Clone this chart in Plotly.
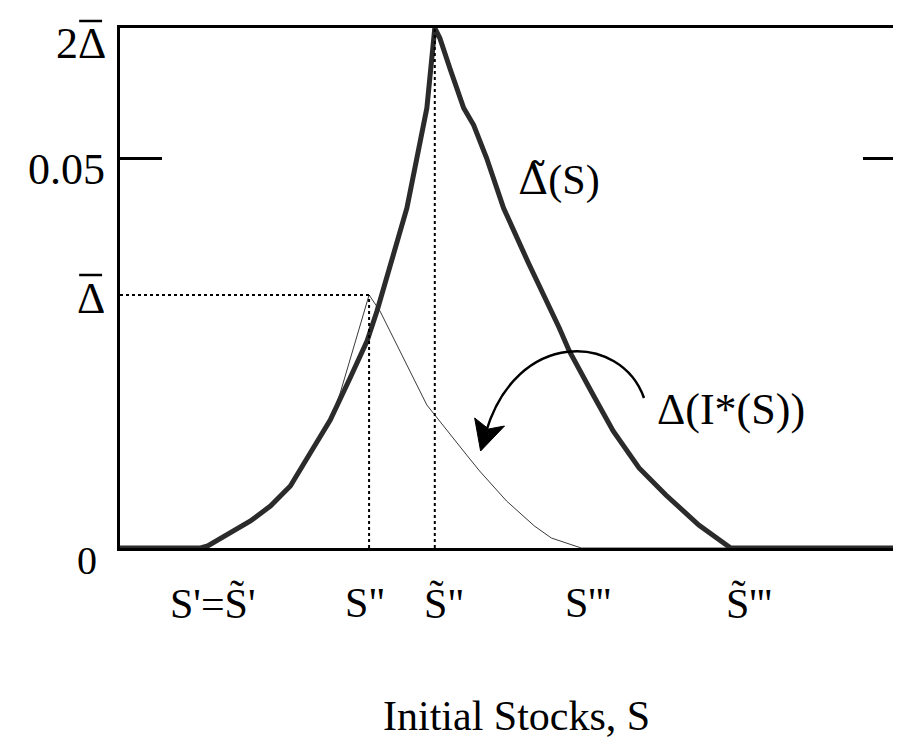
import plotly.graph_objects as go

# ---- data ----
S_thick = [0, 10.28, 11.17, 13.32, 16.62, 19.16, 21.70, 24.24, 26.78, 29.31, 31.47, 32.74,
           34.39, 36.55, 37.82, 39.09, 40.10, 40.74, 42.01, 43.78, 45.05, 46.70, 48.86,
           52.03, 55.96, 57.23, 60.28, 62.82, 66.12, 69.54, 73.73, 77.79, 100]
D_thick = [0, 0, 0.00026, 0.00154, 0.00346, 0.00538, 0.00795, 0.01218, 0.01641, 0.02179,
           0.02654, 0.03038, 0.03590, 0.04359, 0.0500, 0.05641, 0.06667, 0.06538, 0.06154,
           0.05641, 0.05423, 0.0500, 0.04359, 0.03654, 0.02821, 0.02526, 0.01962, 0.0150,
           0.01026, 0.00679, 0.00295, 0, 0]

S_thin = [0, 10.28, 11.17, 13.32, 16.62, 19.16, 21.70, 24.24, 26.78, 28.05, 31.73, 33.12,
          36.55, 39.09, 44.16, 45.81, 49.24, 52.79, 54.95, 57.49, 58.76, 100]
D_thin = [0, 0, 0.00026, 0.00154, 0.00346, 0.00538, 0.00795, 0.01218, 0.01641, 0.01987,
          0.03244, 0.03038, 0.02346, 0.01833, 0.01192, 0.00987, 0.00603, 0.00282, 0.00128,
          0.00038, 0, 0]

Y_TICK = 0.05
X_RANGE = [0, 100]
Y_RANGE = [0, 0.06667]

# derived reference points
i_thin = D_thin.index(max(D_thin))
i_thick = D_thick.index(max(D_thick))
S_pp, D_bar = S_thin[i_thin], D_thin[i_thin]
S_pp_t, D_top = S_thick[i_thick], D_thick[i_thick]

W, H = 901, 744
L, R, T, B = 112, 1, 20, 204
PW, PH = W - L - R, H - T - B


def px(x):
    return (x - L) / PW


def py(y):
    return (H - B - y) / PH


FONT = "Liberation Serif, Times New Roman, serif"
TIL = "\u0303"

fig = go.Figure()
fig.add_trace(go.Scatter(x=S_thin, y=D_thin, mode="lines",
                         line=dict(color="#3a3a3a", width=1), hoverinfo="skip"))
fig.add_trace(go.Scatter(x=S_thick, y=D_thick, mode="lines",
                         line=dict(color="#2b2b2b", width=5), hoverinfo="skip"))

shapes = [
    dict(type="line", xref="x", yref="y", x0=0, x1=S_pp, y0=D_bar, y1=D_bar,
         line=dict(color="black", width=2, dash="dot")),
    dict(type="line", xref="x", yref="y", x0=S_pp, x1=S_pp, y0=0, y1=D_bar,
         line=dict(color="black", width=2, dash="dot")),
    dict(type="line", xref="x", yref="y", x0=S_pp_t, x1=S_pp_t, y0=0, y1=D_top,
         line=dict(color="black", width=2, dash="dot")),
    # curved arrow
    dict(type="path", xref="paper", yref="paper",
         path="M {},{} C {},{} {},{} {},{}".format(px(638), py(390), px(615), py(325),
                                                 px(510), py(320), px(479), py(425)),
         line=dict(color="black", width=2.5)),
    dict(type="path", xref="paper", yref="paper",
         path="M {},{} L {},{} L {},{} L {},{} Z".format(px(474), py(443), px(468), py(410),
                                                        px(482), py(421), px(498), py(418)),
         line=dict(color="black", width=1), fillcolor="black"),
    # overbars of the Delta-bar symbols
    dict(type="line", xref="paper", yref="paper", x0=px(71), x1=px(94), y0=py(13), y1=py(13),
         line=dict(color="black", width=2.5)),
    dict(type="line", xref="paper", yref="paper", x0=px(71), x1=px(94), y0=py(267), y1=py(267),
         line=dict(color="black", width=2.5)),
]


def ann(text, x, y, size=42, xanchor="center"):
    return dict(text=text, xref="paper", yref="paper", x=px(x), y=py(y),
                xanchor=xanchor, yanchor="middle", showarrow=False,
                font=dict(family=FONT, size=size, color="black"))


annotations = [
    ann("2Δ", 100, 35, size=44, xanchor="right"),
    ann("0.05", 99, 161, size=44, xanchor="right"),
    ann("Δ", 99, 291, size=44, xanchor="right"),
    ann("0", 79, 552, size=40),
    ann("S'=S" + TIL + "'", 205, 595),
    ann("S\"", 358, 595),
    ann("S" + TIL + "\"", 438, 595),
    ann("S'''", 582, 595),
    ann("S" + TIL + "'''", 743, 595),
    ann("<span style='font-family:DejaVu Serif'>Δ" + TIL + "</span>(S)", 553, 172, size=42),
    ann("Δ(I*(S))", 725, 401, size=44),
    ann("Initial Stocks, S", 510, 708, size=42),
]

fig.update_layout(
    width=W, height=H,
    margin=dict(l=L, r=R, t=T, b=B),
    paper_bgcolor="white", plot_bgcolor="white",
    showlegend=False,
    shapes=shapes,
    annotations=annotations,
    xaxis=dict(range=X_RANGE, showline=True, mirror=True, linecolor="black", linewidth=2.5,
               showgrid=False, zeroline=False, showticklabels=False, ticks=""),
    yaxis=dict(range=Y_RANGE, showline=True, mirror="ticks", linecolor="black", linewidth=2.5,
               showgrid=False, zeroline=False, showticklabels=False,
               tickvals=[Y_TICK], ticks="inside", ticklen=42, tickwidth=2.5, tickcolor="black"),
)

fig.write_html("out.html")
